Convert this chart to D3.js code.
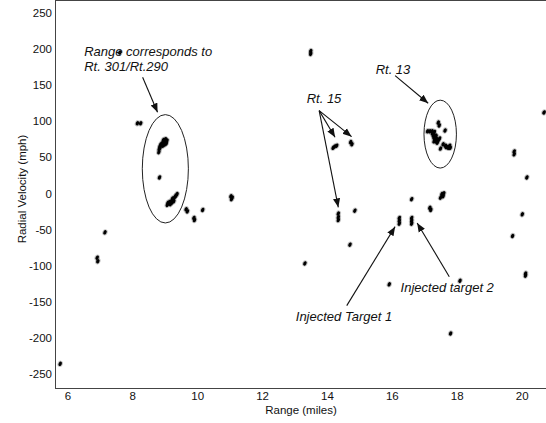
<!DOCTYPE html>
<html><head><meta charset="utf-8">
<script src="https://cdn.jsdelivr.net/npm/d3@7"></script>
<style>
html,body{margin:0;padding:0;background:#fff;}
svg{display:block;font-family:"Liberation Sans",Arial,sans-serif;}
</style></head>
<body>
<svg id="chart" width="546" height="423"></svg>
<script>
// ---- data (range in miles, radial velocity in mph) ----
const rangeMiles = [
  5.78, 6.92, 6.94, 7.16, 7.62, 8.16, 8.26,
  8.96, 9.02, 9.07, 9.0, 8.93, 8.88, 8.85, 8.83, 8.82, 9.05, 8.95, 8.98, 9.04, 8.9, 8.86, 9.0,
  8.84,
  9.08, 9.13, 9.18, 9.2, 9.25, 9.3, 9.35, 9.38, 9.22, 9.28, 9.15, 9.24, 9.1, 9.33,
  9.66, 9.7, 9.9, 9.92, 10.17, 11.04, 11.08, 11.06,
  13.32, 13.5, 13.5,
  14.19, 14.24, 14.3, 14.73, 14.77, 14.35, 14.35, 14.35, 14.86, 14.71,
  15.92, 16.23, 16.23, 16.23, 16.61, 16.61, 16.61, 16.61,
  17.17, 17.2, 17.54, 17.6, 17.58, 17.5,
  17.1, 17.17, 17.24, 17.31, 17.28, 17.33, 17.38, 17.43, 17.3, 17.4, 17.43, 17.46, 17.64,
  17.58, 17.65, 17.72, 17.78, 17.8, 17.5, 17.36, 17.47,
  17.35, 17.3, 17.36, 17.25, 17.68, 17.75,
  18.1, 17.81,
  19.77, 19.77, 20.16, 20.02, 19.72, 20.12, 20.12, 20.69
];
const radialVelocity = [
  -236, -89, -94, -54, 195, 97, 97,
  74, 75, 73, 70, 70, 68, 65, 61, 57, 69, 66, 72, 72, 67, 63, 67.5,
  22,
  -16, -14, -15, -11, -9, -6, -3, -1, -13, -11, -12, -7, -13, -4,
  -22, -25, -34, -37, -23, -4, -6, -8,
  -97, 197, 193,
  63, 65, 66, 71, 68, -28, -33, -37, -24, -71,
  -126, -34, -38, -42, -34, -38, -42, -8,
  -20, -23, -1, 0, -4, -6,
  86, 86, 86, 85, 80, 77, 75, 73, 72, 70, 98, 94, 87,
  68, 66, 64, 66, 63, 62, 79, 76,
  80, 77, 72, 83, 64, 63,
  -121, -194,
  58, 54, 22, -29, -59, -111, -114, 112
];

const xTicks = [6, 8, 10, 12, 14, 16, 18, 20];
const yTicks = [250, 200, 150, 100, 50, 0, -50, -100, -150, -200, -250];

// annotation text (anchor in data units)
const labelTexts = ["Range corresponds to", "Rt. 301/Rt.290", "Rt. 15", "Rt. 13", "Injected target 2", "Injected Target 1"];
const labelRange = [6.52, 6.52, 13.375, 15.5, 16.27, 13.04];
const labelVel = [190.5, 169, 125, 165, -136, -177];

// arrows: [fromRange, fromVel, toRange, toVel]
const arrowFromRange = [8.32, 16.10, 13.76, 13.76, 13.76, 14.61, 17.77];
const arrowFromVel   = [160.7, 163, 114.5, 114.5, 114.5, -155.5, -115.4];
const arrowToRange   = [8.78, 17.12, 14.25, 14.76, 14.35, 16.10, 16.78];
const arrowToVel     = [112.2, 124.7, 77.6, 78.5, -19.4, -46.1, -41];

// ellipses: center and radii in data units
const ellCenterRange = [9.02, 17.49];
const ellCenterVel = [34, 82];
const ellRadiusRange = [0.71, 0.5];
const ellRadiusVel = [75, 47];

// ---- drawing ----
const W = 546, H = 423;
const m = {left: 55, top: 0.5, right: 0, bottom: 35};
const svg = d3.select("#chart");
const x = d3.scaleLinear().domain([5.62, 20.75]).range([m.left, W - m.right]);
const y = d3.scaleLinear().domain([-269.5, 267]).range([H - m.bottom, m.top]);

svg.append("defs").append("marker")
  .attr("id", "ah").attr("viewBox", "0 0 10 10").attr("refX", 10).attr("refY", 5)
  .attr("markerWidth", 9).attr("markerHeight", 9).attr("markerUnits", "userSpaceOnUse")
  .attr("orient", "auto")
  .append("path").attr("d", "M0,1 L10,5 L0,9 Z").attr("fill", "#111");

// frame
const frame = svg.append("g").attr("stroke", "#444").attr("stroke-width", 1).attr("fill", "none");
frame.append("line").attr("x1", m.left + 0.5).attr("x2", m.left + 0.5).attr("y1", 0.5).attr("y2", H - m.bottom);
frame.append("line").attr("x1", m.left).attr("x2", W).attr("y1", 0.5).attr("y2", 0.5);
frame.append("line").attr("x1", m.left).attr("x2", W).attr("y1", H - m.bottom + 0.5).attr("y2", H - m.bottom + 0.5);

// axes
const fmt = d => String(d);
const xAxis = svg.append("g").attr("transform", `translate(0,${H - m.bottom})`)
  .call(d3.axisBottom(x).tickValues(xTicks).tickSize(0).tickPadding(4).tickFormat(fmt));
const yAxis = svg.append("g").attr("transform", `translate(${m.left},0)`)
  .call(d3.axisLeft(y).tickValues(yTicks).tickSize(0).tickPadding(3).tickFormat(fmt));
[xAxis, yAxis].forEach(a => {
  a.select(".domain").remove();
  a.selectAll("text").attr("font-size", 11.5).attr("fill", "#111").attr("font-family", "Liberation Sans, Arial, sans-serif");
});

svg.append("text").attr("x", 301).attr("y", 414)
  .attr("text-anchor", "middle").attr("font-size", 11.5).attr("fill", "#111").text("Range (miles)");
svg.append("text").attr("transform", `translate(26,189) rotate(-90)`)
  .attr("text-anchor", "middle").attr("font-size", 11.5).attr("fill", "#111").text("Radial Velocity (mph)");

// detections
const pts = rangeMiles.map((r, i) => [r, radialVelocity[i]]);
const g = svg.append("g");
g.selectAll("ellipse.halo").data(pts).join("ellipse")
  .attr("class", "halo")
  .attr("transform", d => `translate(${x(d[0])},${y(d[1])}) rotate(25)`)
  .attr("rx", 2.6).attr("ry", 3.2).attr("fill", "#999").attr("opacity", 0.6);
g.selectAll("ellipse.core").data(pts).join("ellipse")
  .attr("class", "core")
  .attr("transform", d => `translate(${x(d[0])},${y(d[1])}) rotate(25)`)
  .attr("rx", 1.6).attr("ry", 2.3).attr("fill", "#000");

// ellipses
svg.append("g").selectAll("ellipse").data(ellCenterRange).join("ellipse")
  .attr("cx", (d, i) => x(d)).attr("cy", (d, i) => y(ellCenterVel[i]))
  .attr("rx", (d, i) => x(d + ellRadiusRange[i]) - x(d))
  .attr("ry", (d, i) => y(ellCenterVel[i] - ellRadiusVel[i]) - y(ellCenterVel[i]))
  .attr("fill", "none").attr("stroke", "#222").attr("stroke-width", 1);

// arrows
svg.append("g").selectAll("line").data(arrowFromRange).join("line")
  .attr("x1", (d, i) => x(d)).attr("y1", (d, i) => y(arrowFromVel[i]))
  .attr("x2", (d, i) => x(arrowToRange[i])).attr("y2", (d, i) => y(arrowToVel[i]))
  .attr("stroke", "#111").attr("stroke-width", 1.1).attr("marker-end", "url(#ah)");

// labels
svg.append("g").selectAll("text").data(labelTexts).join("text")
  .attr("x", (d, i) => x(labelRange[i])).attr("y", (d, i) => y(labelVel[i]))
  .attr("font-size", 13).attr("font-style", "italic").attr("fill", "#111").text(d => d);
</script>
</body></html>
